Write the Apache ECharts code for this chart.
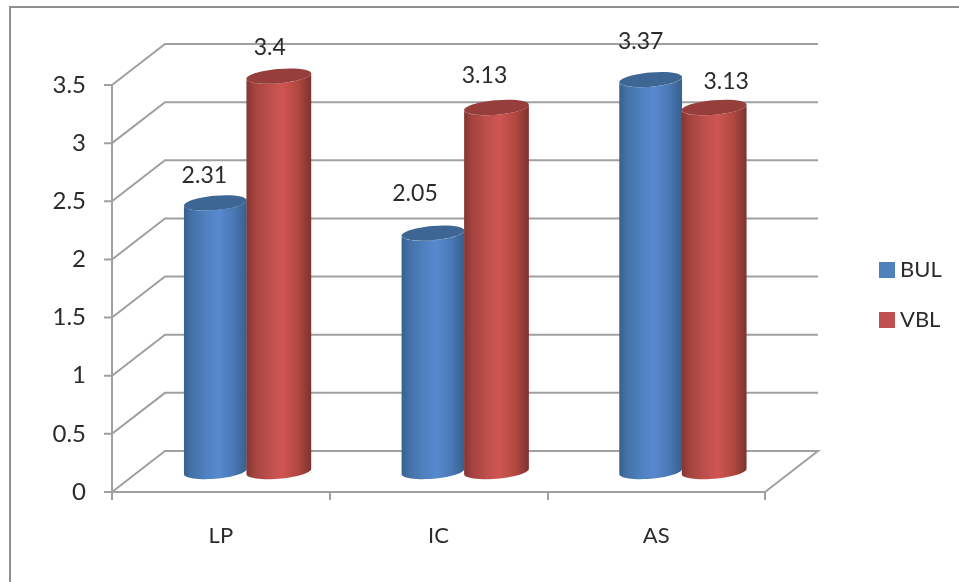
<!DOCTYPE html>
<html>
<head>
<meta charset="utf-8">
<style>html,body{margin:0;padding:0;background:#fff}#chart{width:959px;height:582px}</style>
<script src="https://cdn.jsdelivr.net/npm/echarts@6/dist/echarts.min.js"></script>
</head>
<body>
<div id="chart"></div>
<script>
// Chart values
const categories = ['LP', 'IC', 'AS'];
const bulValues = [2.31, 2.05, 3.37];
const vblValues = [3.4, 3.13, 3.13];
const yTicks = [0, 0.5, 1, 1.5, 2, 2.5, 3, 3.5];

// Oblique projection of the floor: how far the back wall sits from the front plane
const DEPTH_X = 53;
const DEPTH_Y = 41;
const TICK_LEN = 8;
const FONT = 'Lato';
const TEXT = '#2b2b2b';
const RULE = '#a0a0a0';

// Hand-placed data label offsets from the centre of each cylinder top
const bulLabelNudge = [[-11, -27], [-18, -40], [-10, -38]];
const vblLabelNudge = [[-9, -29], [-12, -32], [12, -26]];

const TILT = -5 * Math.PI / 180;
const RY = 7.2;

function ellipsePoint(cx, cy, rx, t) {
  return [
    cx + rx * Math.cos(t) * Math.cos(TILT) - RY * Math.sin(t) * Math.sin(TILT),
    cy + rx * Math.cos(t) * Math.sin(TILT) + RY * Math.sin(t) * Math.cos(TILT)
  ];
}

function ellipseOutline(cx, cy, rx, from, to, steps) {
  const pts = [];
  for (let i = 0; i <= steps; i++) {
    pts.push(ellipsePoint(cx, cy, rx, from + (to - from) * i / steps));
  }
  return pts;
}

function bodyGradient(stops) {
  return {
    type: 'linear', x: 0, y: 0, x2: 1, y2: 0,
    colorStops: stops.map(([offset, color]) => ({ offset, color }))
  };
}

// Side of the cylinder, its tilted cap and the value label above it
function cylinderSeries(name, values, shift, rx, swatch, bodyStops, capColor, nudges, order) {
  return {
    name,
    type: 'custom',
    z: order,
    itemStyle: { color: swatch },
    data: values.map((v, i) => [i, v]),
    encode: { x: 0, y: 1 },
    renderItem(params, api) {
      const idx = api.value(0), val = api.value(1);
      const top = api.coord([idx, val]);
      const base = api.coord([idx, 0]);
      const cx = top[0] + DEPTH_X / 2 + shift;
      const topY = top[1] - DEPTH_Y / 2;
      const baseY = base[1] - DEPTH_Y / 2;
      // Silhouette parameters: where the tilted ellipse reaches its x extremes
      const tRight = Math.atan2(-RY * Math.sin(TILT), rx * Math.cos(TILT));
      const tLeft = tRight + Math.PI;
      const lower = ellipseOutline(cx, baseY, rx, tRight, tLeft, 28);
      const upper = ellipseOutline(cx, topY, rx, tLeft, tRight, 28);
      const [nx, ny] = nudges[idx];
      return {
        type: 'group',
        children: [
          {
            type: 'polygon',
            shape: { points: lower.concat(upper) },
            style: { fill: bodyGradient(bodyStops) }
          },
          {
            type: 'ellipse',
            x: cx, y: topY, rotation: -TILT,
            shape: { cx: 0, cy: 0, rx, ry: RY },
            style: { fill: capColor }
          },
          {
            type: 'text',
            x: cx + nx, y: topY + ny,
            style: {
              text: String(val), fill: TEXT,
              font: '23px ' + FONT, align: 'center', verticalAlign: 'middle'
            }
          }
        ]
      };
    }
  };
}

const chart = echarts.init(document.getElementById('chart'), null, { renderer: 'canvas' });

const blueStops = [[0, '#37608f'], [0.12, '#4371a8'], [0.35, '#4f80bf'], [0.55, '#5889cf'], [0.8, '#4a78b4'], [1, '#375f8e']];
const redStops = [[0, '#843533'], [0.12, '#a4433f'], [0.35, '#be4f4c'], [0.55, '#cf5552'], [0.8, '#b0483f'], [1, '#7c3230']];

chart.setOption({
  animation: false,
  backgroundColor: '#ffffff',
  textStyle: { fontFamily: FONT },
  grid: { left: 112, top: 85, width: 653, height: 407 },
  legend: {
    orient: 'vertical',
    left: 879, top: 259, padding: 0,
    itemWidth: 16, itemHeight: 16, itemGap: 28,
    data: ['BUL', 'VBL'],
    icon: 'rect',
    textStyle: { fontSize: 22, fontFamily: FONT, color: TEXT }
  },
  xAxis: {
    type: 'category',
    data: categories,
    z: 2,
    axisLine: { show: true, onZero: false, lineStyle: { color: RULE, width: 2 } },
    axisTick: { show: true, length: TICK_LEN, lineStyle: { color: RULE, width: 2 } },
    axisLabel: { fontSize: 22, fontFamily: FONT, color: TEXT, margin: 33 }
  },
  yAxis: {
    type: 'value',
    min: 0, max: 3.5, interval: 0.5,
    z: 2,
    splitLine: { show: false },
    axisLine: { show: false },
    axisTick: { show: false },
    axisLabel: { fontSize: 24, fontFamily: FONT, color: TEXT, margin: 26, padding: [8, 0, 0, 0] }
  },
  graphic: [{
    // Chart-area border: only its top and left edges fall inside the frame
    type: 'rect',
    silent: true,
    shape: { x: 10, y: 7, width: 1100, height: 800 },
    style: { fill: null, stroke: '#8f8f8f', lineWidth: 2 }
  }],
  series: [
    {
      // Back wall, floor, and the value axis spine with its outward ticks
      name: 'wall',
      type: 'custom',
      z: 1,
      silent: true,
      data: yTicks.map(v => [0, v]),
      encode: { x: 0, y: 1 },
      renderItem(params, api) {
        const v = api.value(1);
        const y = api.coord([0, v])[1];
        const left = params.coordSys.x;
        const right = left + params.coordSys.width;
        const points = [[left - TICK_LEN, y], [left, y], [left + DEPTH_X, y - DEPTH_Y], [right + DEPTH_X, y - DEPTH_Y]];
        if (v === 0) points.push([right, y]);
        const stroke = { stroke: RULE, lineWidth: 2, fill: null };
        const children = [{ type: 'polyline', shape: { points }, style: stroke }];
        if (v === 0) {
          const topY = api.coord([0, yTicks[yTicks.length - 1]])[1];
          children.push({ type: 'line', shape: { x1: left, y1: y, x2: left, y2: topY }, style: stroke });
        }
        return { type: 'group', children };
      }
    },
    cylinderSeries('BUL', bulValues, -32, 31.5, '#4f81bd', blueStops, '#3e6695', bulLabelNudge, 3),
    cylinderSeries('VBL', vblValues, 31.5, 32.5, '#c0504d', redStops, '#953e3b', vblLabelNudge, 4)
  ]
});
</script>
</body>
</html>
